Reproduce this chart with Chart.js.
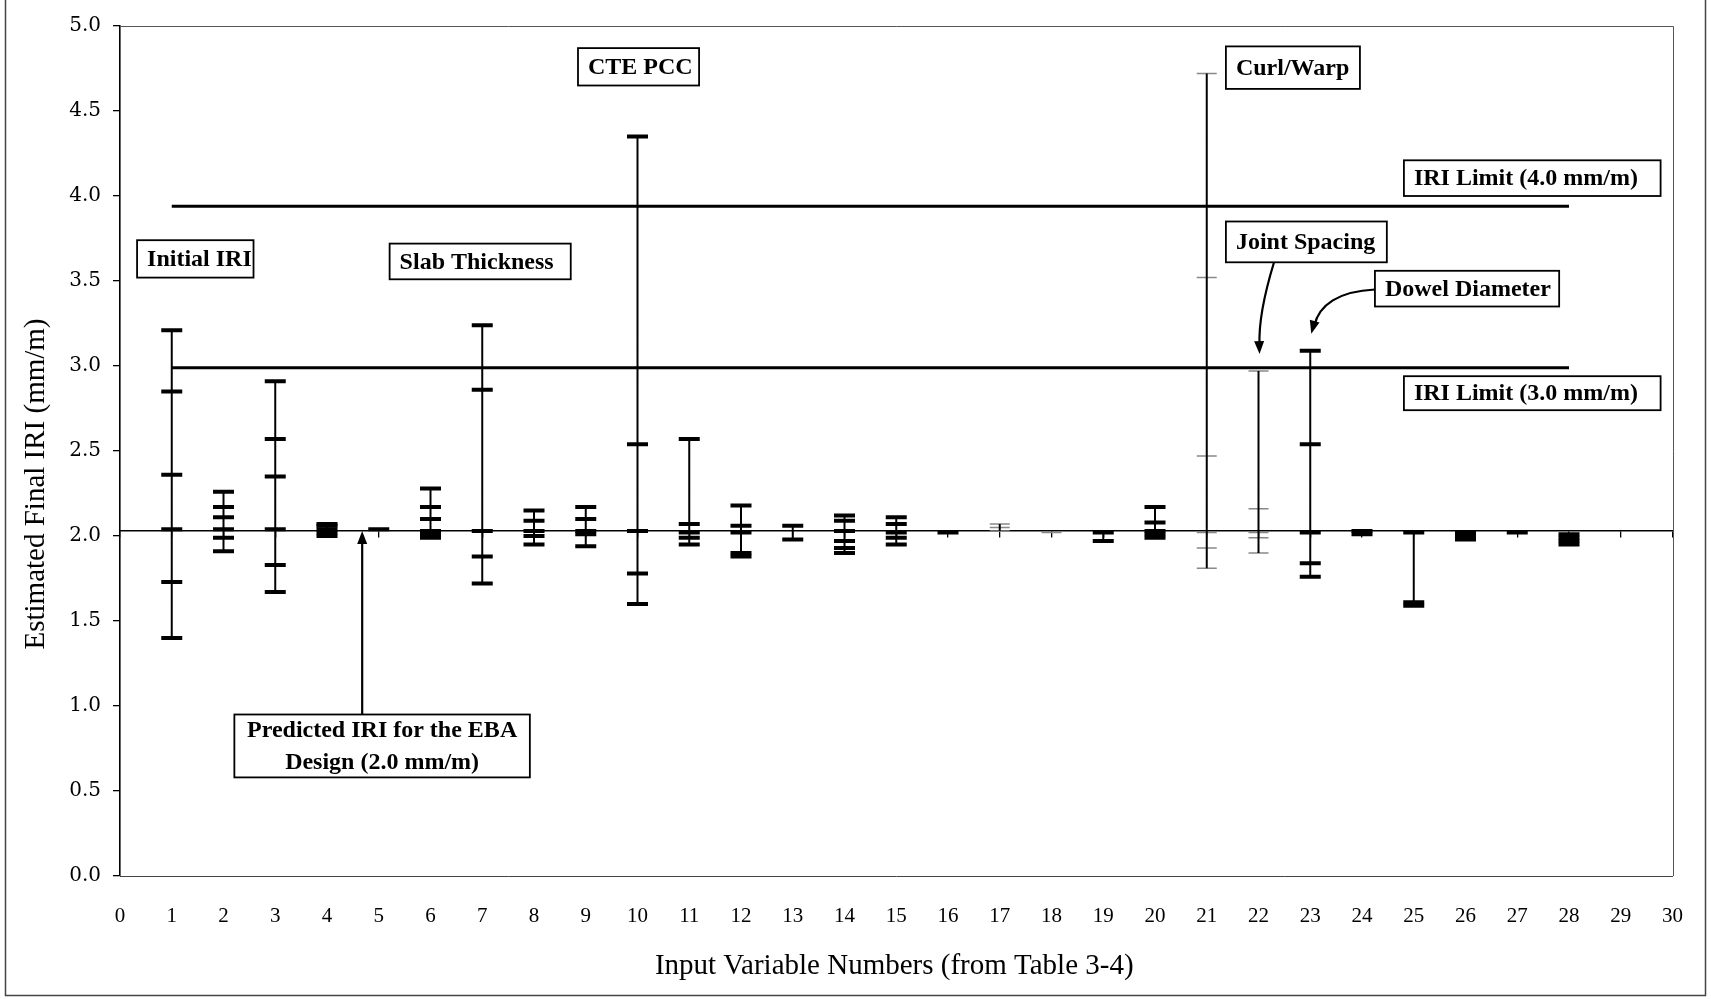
<!DOCTYPE html>
<html>
<head>
<meta charset="utf-8">
<script src="https://cdn.jsdelivr.net/npm/chart.js@4.4.0/dist/chart.umd.min.js"></script>
<style>
html,body{margin:0;padding:0;background:#fff;}
#wrap{width:1711px;height:999px;position:relative;}
canvas{display:block;}
</style>
</head>
<body>
<div id="wrap"><canvas id="c" width="1711" height="999"></canvas></div>
<script>
// ---------- data ----------
const xTickValues = [0,1,2,3,4,5,6,7,8,9,10,11,12,13,14,15,16,17,18,19,20,21,22,23,24,25,26,27,28,29,30];
const yTickValues = [0,0.5,1,1.5,2,2.5,3,3.5,4,4.5,5];
const variableNumbers = [1,2,3,4,5,6,7,8,9,10,11,12,13,14,15,16,17,18,19,20,21,22,23,24,25,26,27,28];
// estimated final IRI (mm/m) for each input variable (one array per variable)
const iriResults = [
  [1.40, 1.73, 2.04, 2.36, 2.85, 3.21],
  [1.91, 1.99, 2.04, 2.11, 2.17, 2.26],
  [1.67, 1.83, 2.04, 2.35, 2.57, 2.91],
  [2.00, 2.02, 2.04, 2.06, 2.07],
  [2.04],
  [1.99, 2.01, 2.03, 2.10, 2.17, 2.28],
  [1.72, 1.88, 2.03, 2.86, 3.24],
  [1.95, 2.00, 2.03, 2.09, 2.15],
  [1.94, 2.01, 2.03, 2.10, 2.17],
  [1.60, 1.78, 2.03, 2.54, 4.35],
  [1.95, 1.99, 2.02, 2.07, 2.57],
  [1.88, 1.90, 2.02, 2.06, 2.18],
  [1.98, 2.06],
  [1.90, 1.93, 1.97, 2.03, 2.09, 2.12],
  [1.95, 1.99, 2.02, 2.07, 2.11],
  [2.02],
  [2.03, 2.05, 2.07],
  [2.02],
  [1.97, 2.02],
  [1.99, 2.01, 2.03, 2.08, 2.17],
  [1.81, 1.93, 2.02, 2.47, 3.52, 4.72],
  [1.90, 1.99, 2.02, 2.16, 2.97],
  [1.76, 1.84, 2.02, 2.54, 3.09],
  [2.01, 2.03],
  [1.59, 1.61, 2.02],
  [1.98, 2.00, 2.02],
  [2.02],
  [1.95, 1.97, 1.99, 2.01]
];
// variables whose markers are printed faint / dotted
const faintVariables = [17, 18, 21, 22];
const limitSpan = [1, 28];
const iriLimit4 = 3.94;
const iriLimit3 = 2.99;
const predictedIRI = 2.03;

// ---------- build datasets from the arrays ----------
const rangeData = [];
const solidMarks = [];
const faintMarks = [];
variableNumbers.forEach((n, i) => {
  const vals = iriResults[i];
  rangeData.push({x: n, y: Math.min(...vals)});
  rangeData.push({x: n, y: Math.max(...vals)});
  rangeData.push({x: n, y: null});
  const target = faintVariables.includes(n) ? faintMarks : solidMarks;
  vals.forEach(v => target.push({x: n, y: v}));
});
const limit4Data = limitSpan.map(n => ({x: n, y: iriLimit4}));
const limit3Data = limitSpan.map(n => ({x: n, y: iriLimit3}));

// ---------- annotations (axis units) ----------
const boxes = [
  {lines:['Initial IRI'], x0:0.33, x1:2.58, y0:3.74, y1:3.52, align:'left'},
  {lines:['Slab Thickness'], x0:5.21, x1:8.71, y0:3.72, y1:3.51, align:'left'},
  {lines:['CTE PCC'], x0:8.85, x1:11.19, y0:4.87, y1:4.65, align:'left'},
  {lines:['Curl/Warp'], x0:21.37, x1:23.96, y0:4.88, y1:4.63, align:'left'},
  {lines:['IRI Limit (4.0 mm/m)'], x0:24.81, x1:29.77, y0:4.21, y1:4.00, align:'left'},
  {lines:['Joint Spacing'], x0:21.37, x1:24.48, y0:3.85, y1:3.61, align:'left'},
  {lines:['Dowel Diameter'], x0:24.25, x1:27.81, y0:3.56, y1:3.35, align:'left'},
  {lines:['IRI Limit (3.0 mm/m)'], x0:24.81, x1:29.77, y0:2.94, y1:2.74, align:'left'},
  {lines:['Predicted IRI for the EBA','Design (2.0 mm/m)'], x0:2.21, x1:7.92, y0:0.95, y1:0.58, align:'center'}
];

const annotPlugin = {
  id: 'annot',
  afterDraw(chart) {
    const {ctx, chartArea: ca} = chart;
    const xs = chart.scales.x, ys = chart.scales.y;
    const X = v => xs.getPixelForValue(v), Y = v => ys.getPixelForValue(v);
    ctx.save();
    // plot frame (top & right)
    ctx.strokeStyle = '#555'; ctx.lineWidth = 1;
    ctx.beginPath();
    ctx.moveTo(ca.left, Math.round(ca.top) + 0.5);
    ctx.lineTo(Math.round(ca.right) + 0.5, Math.round(ca.top) + 0.5);
    ctx.lineTo(Math.round(ca.right) + 0.5, ca.bottom);
    ctx.stroke();

    // outer figure frame
    ctx.strokeStyle = '#444'; ctx.lineWidth = 1.5;
    ctx.beginPath();
    ctx.moveTo(5.5, 0); ctx.lineTo(5.5, 995.5); ctx.lineTo(1705.5, 995.5); ctx.lineTo(1705.5, 0);
    ctx.stroke();

    // text boxes
    ctx.font = 'bold 24px "Liberation Serif"';
    ctx.textBaseline = 'middle';
    boxes.forEach(b => {
      const x0 = X(b.x0), x1 = X(b.x1), y0 = Y(b.y0), y1 = Y(b.y1);
      ctx.fillStyle = '#fff';
      ctx.fillRect(x0, y0, x1 - x0, y1 - y0);
      ctx.strokeStyle = '#000'; ctx.lineWidth = 1.8;
      ctx.strokeRect(x0, y0, x1 - x0, y1 - y0);
      ctx.fillStyle = '#000';
      const n = b.lines.length;
      const lh = (y1 - y0) / n;
      b.lines.forEach((t, k) => {
        const cy = y0 + lh * (k + 0.5) + 1;
        if (b.align === 'center') { ctx.textAlign = 'center'; ctx.fillText(t, (x0 + x1) / 2, cy); }
        else { ctx.textAlign = 'left'; ctx.fillText(t, x0 + 10, cy); }
      });
    });

    // arrows
    function head(tx, ty, fx, fy) {
      const ang = Math.atan2(ty - fy, tx - fx);
      const L = 13, W = 5;
      ctx.beginPath();
      ctx.moveTo(tx, ty);
      ctx.lineTo(tx - L * Math.cos(ang) + W * Math.sin(ang), ty - L * Math.sin(ang) - W * Math.cos(ang));
      ctx.lineTo(tx - L * Math.cos(ang) - W * Math.sin(ang), ty - L * Math.sin(ang) + W * Math.cos(ang));
      ctx.closePath(); ctx.fill();
    }
    ctx.strokeStyle = '#000'; ctx.fillStyle = '#000'; ctx.lineWidth = 2.2;
    // predicted IRI arrow
    {
      const x = X(4.68), yb = Y(0.95), yt = Y(predictedIRI);
      ctx.beginPath(); ctx.moveTo(x, yb); ctx.lineTo(x, yt + 10); ctx.stroke();
      head(x, yt, x, yb);
    }
    // joint spacing arrow
    {
      const p0 = [X(22.3), Y(3.61)], c1 = [X(22.12), Y(3.43)], c2 = [X(22.0), Y(3.26)], p3 = [X(22.02), Y(3.07)];
      ctx.beginPath(); ctx.moveTo(p0[0], p0[1]);
      ctx.bezierCurveTo(c1[0], c1[1], c2[0], c2[1], p3[0], p3[1] - 9); ctx.stroke();
      head(p3[0], p3[1], c2[0], c2[1]);
    }
    // dowel diameter arrow
    {
      const p0 = [X(24.25), Y(3.45)], c1 = [X(23.55), Y(3.44)], c2 = [X(23.17), Y(3.36)], p3 = [X(23.02), Y(3.19)];
      ctx.beginPath(); ctx.moveTo(p0[0], p0[1]);
      ctx.bezierCurveTo(c1[0], c1[1], c2[0], c2[1], p3[0] + 3, p3[1] - 8); ctx.stroke();
      head(p3[0], p3[1], c2[0], c2[1]);
    }

    // axis titles
    ctx.fillStyle = '#000';
    ctx.font = '29px "Liberation Serif"';
    ctx.textAlign = 'center'; ctx.textBaseline = 'middle';
    ctx.fillText('Input Variable Numbers (from Table 3-4)', (ca.left + ca.right) / 2 - 2, 966);
    ctx.translate(36, 484);
    ctx.rotate(-Math.PI / 2);
    ctx.fillText('Estimated Final IRI (mm/m)', 0, 0);
    ctx.restore();
  }
};

const ticksFrom = arr => scale => { scale.ticks = arr.map(v => ({value: v})); };

new Chart(document.getElementById('c'), {
  type: 'scatter',
  data: {
    datasets: [
      {type: 'line', data: limit4Data, borderColor: '#000', borderWidth: 3, pointRadius: 0, showLine: true, xAxisID: 'x', yAxisID: 'y'},
      {type: 'line', data: limit3Data, borderColor: '#000', borderWidth: 3, pointRadius: 0, showLine: true, xAxisID: 'x', yAxisID: 'y'},
      {type: 'line', data: rangeData, borderColor: '#000', borderWidth: 2, pointRadius: 0, showLine: true, spanGaps: false, xAxisID: 'x', yAxisID: 'y'},
      {type: 'scatter', data: solidMarks, pointStyle: 'line', pointRadius: 10.5, pointBorderWidth: 4, pointBorderColor: '#000', borderColor: '#000', xAxisID: 'x', yAxisID: 'y'},
      {type: 'scatter', data: faintMarks, pointStyle: 'line', pointRadius: 10, pointBorderWidth: 1.5, pointBorderColor: '#888', borderColor: '#888', xAxisID: 'x', yAxisID: 'y'}
    ]
  },
  options: {
    responsive: false,
    animation: false,
    events: [],
    layout: {padding: {left: 0, top: 26, right: 31, bottom: 0}},
    plugins: {legend: {display: false}, tooltip: {enabled: false}, title: {display: false}},
    scales: {
      x: {
        type: 'linear', axis: 'x', position: 'bottom', min: 0, max: 30,
        afterBuildTicks: ticksFrom(xTickValues),
        afterFit: s => { s.height = 123; },
        ticks: {font: {family: '"Liberation Serif"', size: 21}, color: '#000', padding: 28, maxRotation: 0, autoSkip: false},
        grid: {drawOnChartArea: false, drawTicks: false},
        border: {display: true, color: '#444', width: 1}
      },
      xBase: {
        type: 'linear', axis: 'x', position: {y: predictedIRI}, min: 0, max: 30,
        afterBuildTicks: ticksFrom(xTickValues),
        ticks: {display: false},
        grid: {drawOnChartArea: false, drawTicks: true, tickLength: 6, color: '#000', lineWidth: 1.3},
        border: {display: true, color: '#000', width: 1.4}
      },
      y: {
        type: 'linear', axis: 'y', position: 'left', min: 0, max: 5,
        afterBuildTicks: ticksFrom(yTickValues),
        afterFit: s => { s.width = 120; },
        ticks: {font: {family: '"DejaVu Serif"', size: 20}, color: '#000', padding: 12, callback: v => Number(v).toFixed(1)},
        grid: {drawOnChartArea: false, drawTicks: true, tickLength: 7, color: '#000', lineWidth: 1.3},
        border: {display: true, color: '#000', width: 1.6}
      }
    }
  },
  plugins: [annotPlugin]
});
</script>
</body>
</html>
